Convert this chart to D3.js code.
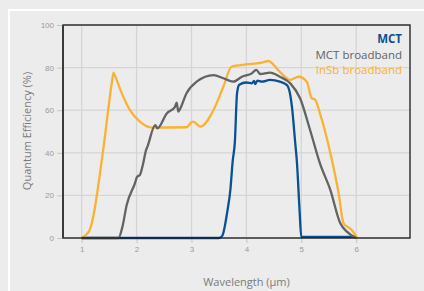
<!DOCTYPE html>
<html>
<head>
<meta charset="utf-8">
<script src="https://cdn.jsdelivr.net/npm/d3@7"></script>
<style>
  body { margin: 0; background: #ececec; }
  svg { display: block; font-family: "Open Sans", sans-serif; }
</style>
</head>
<body>
<div class="vis"></div>
<script>
// wavelength (um) / quantum efficiency (%)
const mctWl = [1.0, 3.5, 3.56, 3.65, 3.71, 3.75, 3.79, 3.83, 3.87, 4.0, 4.1, 4.14, 4.16, 4.2, 4.28, 4.43, 4.61, 4.74, 4.78, 4.83, 4.89, 4.92, 4.97, 5.0, 6.0];
const mctQe = [0, 0, 1, 12, 23, 36, 45, 68, 72, 73, 72.6, 73.7, 72.2, 73.9, 73.4, 74.2, 73.4, 71.8, 69.5, 61.6, 44.5, 35.8, 12.4, 0.5, 0.5];

const mctBbWl = [1.0, 1.67, 1.74, 1.82, 1.97, 2.01, 2.06, 2.12, 2.17, 2.2, 2.34, 2.38, 2.55, 2.7, 2.73, 2.76, 2.79, 2.91, 3.1, 3.4, 3.58, 3.76, 3.92, 4.1, 4.18, 4.25, 4.43, 4.61, 4.8, 4.98, 5.16, 5.34, 5.53, 5.71, 5.83, 6.0];
const mctBbQe = [0, 0, 5, 15.5, 25.7, 28.8, 29.6, 35, 41, 43, 53, 51.5, 58.5, 61.6, 63.5, 59.3, 60.5, 68, 73.5, 76.5, 75, 73.4, 75.7, 77.3, 78.9, 77, 77.6, 75.7, 72.6, 65.5, 50.7, 35, 22.5, 6.9, 3, 0];

const insbWl = [1.0, 1.08, 1.15, 1.21, 1.39, 1.55, 1.58, 1.61, 1.73, 1.88, 2.06, 2.28, 2.91, 3.0, 3.03, 3.16, 3.4, 3.58, 3.73, 4.0, 4.28, 4.4, 4.61, 4.8, 4.95, 5.1, 5.19, 5.25, 5.34, 5.53, 5.68, 5.77, 5.92, 6.02];
const insbQe = [0, 1.5, 4, 10, 41, 73, 77.6, 76, 68, 60, 54.6, 51.8, 52, 54.3, 54.6, 52.3, 60, 71, 80.4, 81.5, 82.3, 83.1, 78, 74.2, 75.7, 73.4, 65.6, 65, 58.5, 39.8, 21, 6.9, 3.8, 0];

const xTicks = [1, 2, 3, 4, 5, 6];
const yTicks = [0, 20, 40, 60, 80, 100];

const seriesNames = ["MCT", "MCT broadband", "InSb broadband"];
const seriesColors = ["#0a5092", "#636363", "#f9b233"];

const W = 424, H = 291;
const margin = {top: 25, right: 14, bottom: 53, left: 63};
const width = W - margin.left - margin.right;
const height = H - margin.top - margin.bottom;

const root = d3.select('.vis').append('svg')
    .attr('width', W)
    .attr('height', H);

root.append('rect').attr('width', W).attr('height', H).attr('fill', '#ececec');
// white panel frame
root.append('rect')
    .attr('x', 9).attr('y', 10)
    .attr('width', W + 20).attr('height', H + 20)
    .attr('fill', 'none')
    .attr('stroke', '#ffffff')
    .attr('stroke-width', 2);

const svg = root.append('g')
    .attr('transform', 'translate(' + margin.left + ',' + margin.top + ')');

const x = d3.scaleLinear().domain([0.66, 6.98]).range([0, width]);
const y = d3.scaleLinear().domain([0, 100]).range([height, 0]);

// grid
svg.append('g')
    .selectAll('line.vg')
    .data(xTicks)
    .enter().append('line')
    .attr('x1', d => x(d)).attr('x2', d => x(d))
    .attr('y1', 0).attr('y2', height)
    .attr('stroke', '#d5d5d5').attr('stroke-width', 1.3);
svg.append('g')
    .selectAll('line.hg')
    .data(yTicks)
    .enter().append('line')
    .attr('x1', 0).attr('x2', width)
    .attr('y1', d => y(d)).attr('y2', d => y(d))
    .attr('stroke', '#d5d5d5').attr('stroke-width', 1.3);

// axes
const xAxis = svg.append('g')
    .attr('transform', 'translate(0,' + height + ')')
    .call(d3.axisBottom(x).tickValues(xTicks).tickSize(5).tickPadding(3).tickFormat(d3.format('d')));
const yAxis = svg.append('g')
    .call(d3.axisLeft(y).tickValues(yTicks).tickSize(6).tickPadding(3));
[xAxis, yAxis].forEach(a => {
    a.select('.domain').remove();
    a.selectAll('line').attr('stroke', '#c4c4c4');
    a.selectAll('text').attr('fill', '#9a9a9a').style('font-size', '8px');
});

// curves
const line = d3.line()
    .x(d => x(d[0]))
    .y(d => y(d[1]))
    .curve(d3.curveMonotoneX);

const series = [
    {name: seriesNames[0], color: seriesColors[0], pts: d3.zip(mctWl, mctQe)},
    {name: seriesNames[2], color: seriesColors[2], pts: d3.zip(insbWl, insbQe)},
    {name: seriesNames[1], color: seriesColors[1], pts: d3.zip(mctBbWl, mctBbQe)}
];

svg.selectAll('.curve')
    .data(series)
    .enter().append('path')
    .attr('class', 'curve')
    .attr('d', d => line(d.pts))
    .attr('fill', 'none')
    .attr('stroke', d => d.color)
    .attr('stroke-width', 2.3)
    .attr('stroke-linejoin', 'round');

// frame
svg.append('rect')
    .attr('width', width).attr('height', height)
    .attr('fill', 'none')
    .attr('stroke', '#1a1a1a')
    .attr('stroke-width', 1.3);
svg.append('line')
    .attr('x1', 0).attr('x2', 0)
    .attr('y1', 0).attr('y2', height)
    .attr('stroke', '#3a3a3a').attr('stroke-width', 2);

// legend
svg.selectAll('.leg')
    .data(seriesNames)
    .enter().append('text')
    .attr('class', 'leg')
    .attr('x', width - 8)
    .attr('y', (d, i) => 18 + i * 15.5)
    .attr('text-anchor', 'end')
    .attr('fill', (d, i) => seriesColors[i])
    .style('font-size', '11.5px')
    .style('font-weight', (d, i) => i === 0 ? 'bold' : 'normal')
    .text(d => d);

// axis labels
svg.append('text')
    .attr('text-anchor', 'middle')
    .attr('x', width / 2 + 10)
    .attr('y', height + 48)
    .attr('fill', '#7a7a7a')
    .style('font-size', '11px')
    .text('Wavelength (µm)');

svg.append('text')
    .attr('text-anchor', 'middle')
    .attr('transform', 'rotate(-90)')
    .attr('x', -106)
    .attr('y', -32)
    .attr('fill', '#7a7a7a')
    .style('font-size', '11px')
    .text('Quantum Efficiency (%)');
</script>
</body>
</html>
